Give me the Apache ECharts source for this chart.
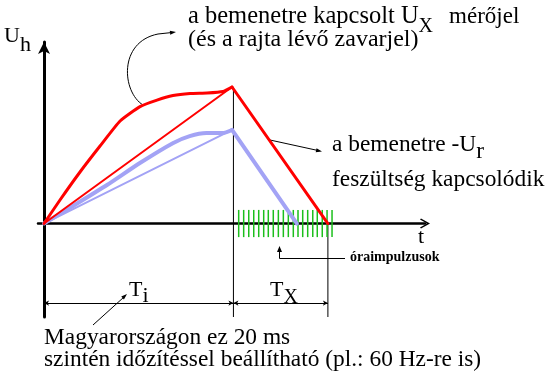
<!DOCTYPE html>
<html><head><meta charset="utf-8">
<script src="https://cdn.jsdelivr.net/npm/echarts@6/dist/echarts.min.js"></script>
<style>html,body{margin:0;padding:0;background:#fff}#c{width:549px;height:383px}</style>
</head><body><div id="c"></div>
<script>
// ---- data (time t in ms, integrator output voltage U in arbitrary units) ----
const redCurveT = [0, 1.70, 3.83, 5.96, 8.09, 10.21, 12.02, 13.72, 15.53, 17.34, 19.04, 20];
const redCurveU = [0, 1.73, 3.79, 5.70, 7.54, 8.60, 9.08, 9.41, 9.56, 9.60, 9.71, 10.04];
const redLineT = [0, 20];
const redLineU = [0, 10.04];
const redFallT = [20, 30.2];
const redFallU = [10.04, 0];
const blueCurveT = [0, 3.09, 6.7, 10.2, 13.7, 15.5, 17.3, 19.0, 20];
const blueCurveU = [0, 1.29, 2.83, 4.45, 5.91, 6.43, 6.65, 6.65, 6.88];
const blueLineT = [0, 20];
const blueLineU = [0, 6.88];
const blueFallT = [20, 26.9];
const blueFallU = [6.88, 0];
const clockT = [20.71, 21.24, 21.78, 22.31, 22.84, 23.37, 23.86, 24.39, 24.93, 25.46, 25.99, 26.52, 27.02, 27.52, 28.05, 28.59, 29.07, 29.6, 30.11, 30.64];
const clockTop = 1.0, clockBottom = -1.0;
const Ti = 20.15, TxEnd = 30.2;
const dimU = -5.85;
const xMin = -0.64, xMax = 40.53, yMin = -6.875, yMax = 13.35;

const zip = (a, b) => a.map((v, i) => [v, b[i]]);
const RED = '#ff0000', BLUE = '#a3a3f5', GREEN = '#1cbf1c';
const FAMILY = "'Liberation Serif', 'Times New Roman', Times, 'DejaVu Serif', serif";
const BIG = 23.4;

function lineSeries(t, u, color, width, z) {
  return { type: 'line', data: zip(t, u), symbol: 'none', smooth: false, z: z || 2,
    lineStyle: { color, width, cap: 'round', join: 'round' }, animation: false, silent: true };
}

// ---- text layout helper ----
const mctx = document.createElement('canvas').getContext('2d');
const graphics = [];
function run(x, bl, pieces) {
  let cx = x;
  for (const p of pieces) {
    const size = p.size || BIG;
    const weight = p.bold ? 'bold' : 'normal';
    cx += p.gap || 0;
    graphics.push({ type: 'text', x: cx, y: bl + (p.dy || 0) - 0.3375 * size, silent: true,
      style: { text: p.t, fontFamily: FAMILY, fontSize: size, fontWeight: weight, fill: '#000', align: 'left', verticalAlign: 'middle' } });
    mctx.font = weight + ' ' + size + 'px ' + FAMILY;
    cx += mctx.measureText(p.t).width;
  }
}
function arrowHead(x, y, ang, len, hw) {
  len = len || 7; hw = hw || 2.5;
  const c = Math.cos(ang), s = Math.sin(ang);
  const bx = x - len * c, by = y - len * s;
  graphics.push({ type: 'polygon', silent: true, shape: { points: [[x, y], [bx - hw * s, by + hw * c], [bx + hw * s, by - hw * c]] }, style: { fill: '#000' } });
}

run(188, 25, [{ t: 'a bemenetre kapcsolt U', size: 24.5 }, { t: 'X', size: 20, dy: 8 }, { t: 'mérőjel', size: 23, gap: 16 }]);
run(188, 48, [{ t: '(és a rajta lévő zavarjel)', size: 24 }]);
run(332, 153, [{ t: 'a bemenetre -U' }, { t: 'r', dy: 7 }]);
run(332, 188, [{ t: 'feszültség kapcsolódik' }]);
run(44, 346, [{ t: 'Magyarországon ez 20 ms' }]);
run(44, 368, [{ t: 'szintén időzítéssel beállítható (pl.: 60 Hz-re is)' }]);
run(4, 44, [{ t: 'U', size: 22 }]);
run(20, 53, [{ t: 'h', size: 22 }]);
run(418, 245, [{ t: 't', size: 22 }]);
run(129, 298, [{ t: 'T', size: 22 }, { t: 'i', size: 22, dy: 6 }]);
run(270, 298, [{ t: 'T', size: 22 }, { t: 'X', size: 20, dy: 6 }]);
run(350, 262, [{ t: 'óraimpulzusok', size: 14, bold: true }]);

// annotation pointers
graphics.push({ type: 'bezierCurve', silent: true, shape: { x1: 143, y1: 105, cpx1: 122, cpy1: 92, cpx2: 118, cpy2: 42, x2: 158, y2: 34 }, style: { stroke: '#000', lineWidth: 1, fill: null } });
graphics.push({ type: 'line', silent: true, shape: { x1: 158, y1: 34, x2: 172, y2: 32.5 }, style: { stroke: '#000', lineWidth: 1 } });
arrowHead(176, 32, -0.12, 6, 2);
graphics.push({ type: 'line', silent: true, shape: { x1: 270, y1: 140, x2: 318, y2: 150.5 }, style: { stroke: '#000', lineWidth: 1 } });
arrowHead(322, 151.5, Math.atan2(11, 50), 6, 2);
graphics.push({ type: 'line', silent: true, shape: { x1: 93, y1: 325, x2: 124, y2: 297 }, style: { stroke: '#000', lineWidth: 1 } });
arrowHead(127, 294, Math.atan2(-31, 34), 6, 2);
graphics.push({ type: 'polyline', silent: true, shape: { points: [[345, 258.5], [279.5, 258.5], [279.5, 250]] }, style: { stroke: '#000', lineWidth: 1, fill: null } });
arrowHead(279.5, 246, -Math.PI / 2, 6, 2.5);

const chart = echarts.init(document.getElementById('c'), null, { renderer: 'canvas' });
chart.setOption({
  animation: false,
  backgroundColor: '#fff',
  grid: { left: 38, right: 124, top: 42, bottom: 66, containLabel: false },
  xAxis: { type: 'value', min: xMin, max: xMax,
    axisLine: { onZero: true, symbol: ['none', 'path://M5,0 L10,9 L9,10 L5,3 L1,10 L0,9 Z'], symbolSize: [10, 11], lineStyle: { color: '#000', width: 2.5 } },
    axisTick: { show: false }, axisLabel: { show: false }, splitLine: { show: false } },
  yAxis: { type: 'value', min: yMin, max: yMax,
    axisLine: { onZero: true, symbol: ['none', 'arrow'], symbolSize: [9, 12], lineStyle: { color: '#000', width: 3 } },
    axisTick: { show: false }, axisLabel: { show: false }, splitLine: { show: false } },
  series: [
    { type: 'line', data: [[Ti, redLineU[1]], [Ti, yMin]], symbol: 'none', lineStyle: { color: '#000', width: 1 }, silent: true, z: 1,
      markLine: { silent: true, symbol: ['arrow', 'arrow'], symbolSize: [4, 5], label: { show: false },
        lineStyle: { color: '#000', width: 1, type: 'solid' },
        data: [[{ coord: [0, dimU] }, { coord: [Ti, dimU] }], [{ coord: [Ti, dimU] }, { coord: [TxEnd, dimU] }]] } },
    { type: 'line', data: [[TxEnd, 0], [TxEnd, yMin]], symbol: 'none', lineStyle: { color: '#000', width: 1 }, silent: true, z: 1 },
    { type: 'custom', silent: true, z: 3,
      renderItem: function (params, api) {
        const p1 = api.coord([api.value(0), api.value(1)]);
        const p2 = api.coord([api.value(0), api.value(2)]);
        return { type: 'line', shape: { x1: p1[0], y1: p1[1], x2: p2[0], y2: p2[1] }, style: { stroke: GREEN, lineWidth: 1.5 } };
      },
      data: clockT.map(t => [t, clockTop, clockBottom]) },
    lineSeries(blueLineT, blueLineU, BLUE, 2, 4),
    Object.assign(lineSeries(blueCurveT, blueCurveU, BLUE, 4, 4), { smooth: 0.2 }),
    lineSeries(blueFallT, blueFallU, BLUE, 4, 4),
    lineSeries(redLineT, redLineU, RED, 2, 5),
    Object.assign(lineSeries(redCurveT, redCurveU, RED, 3, 5), { smooth: 0.15 }),
    lineSeries(redFallT, redFallU, RED, 3, 5)
  ],
  graphic: { elements: graphics }
});
</script></body></html>
